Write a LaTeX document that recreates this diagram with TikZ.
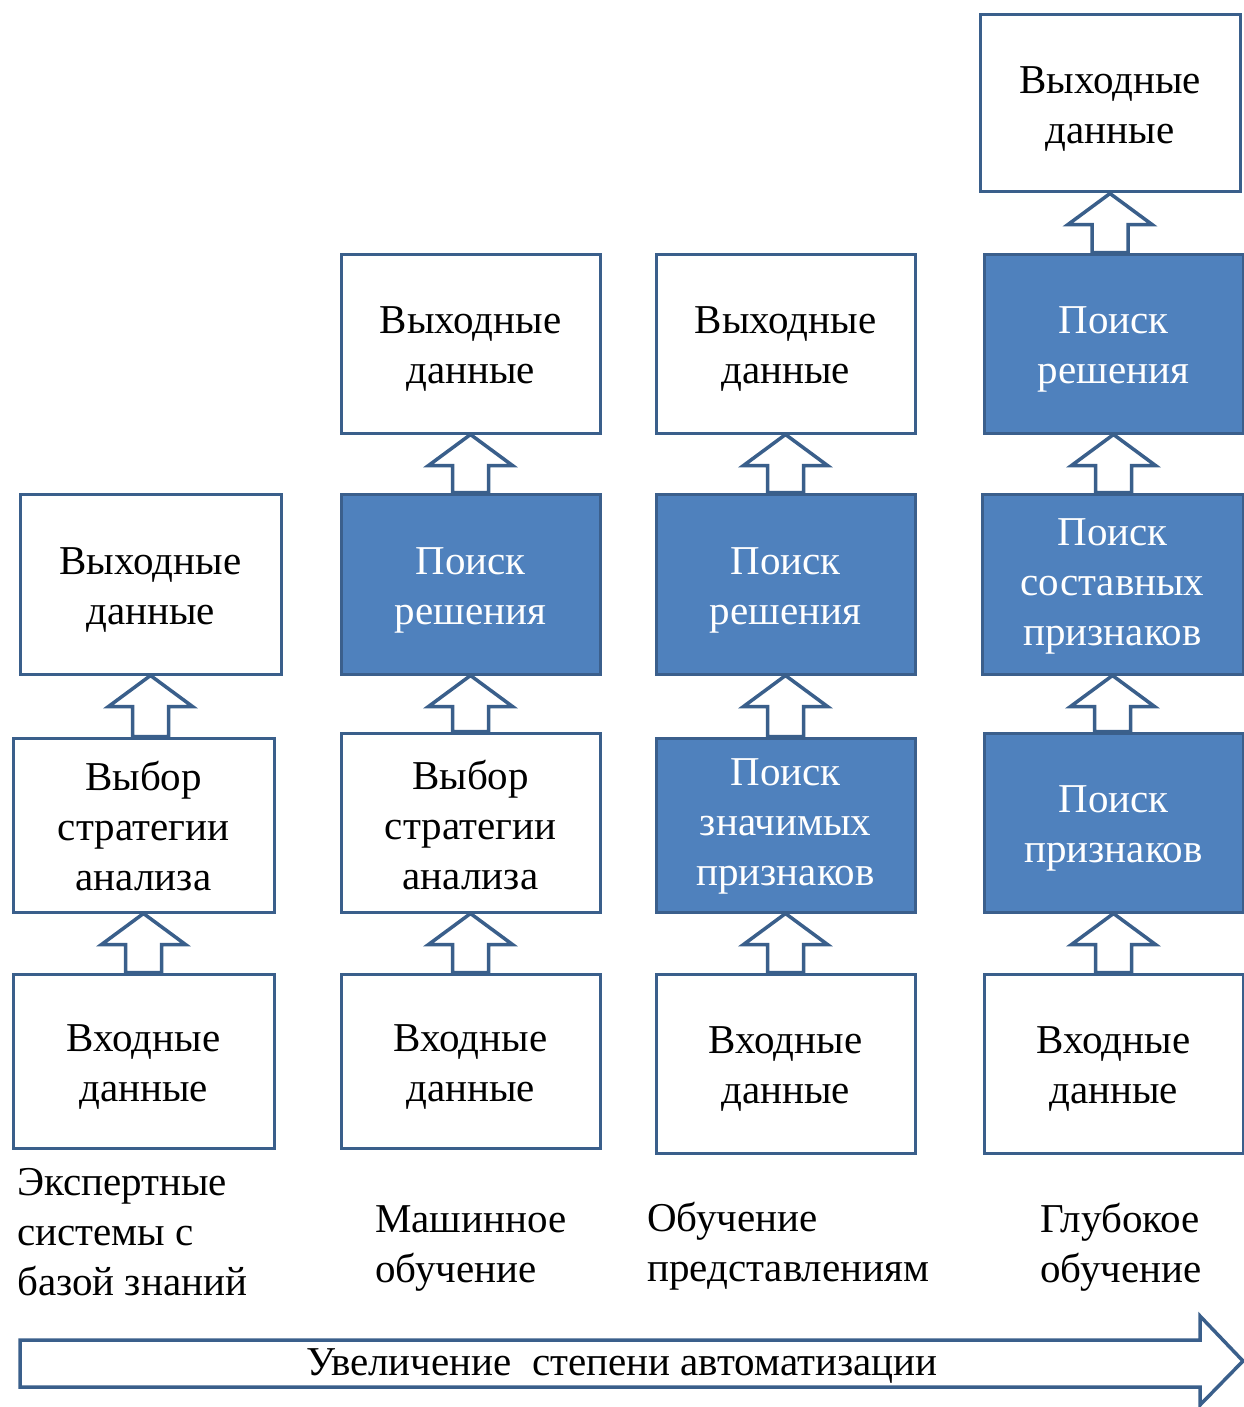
\documentclass[tikz,border=0pt]{standalone}
\usepackage{fontspec}
\setmainfont{Liberation Serif}
\usetikzlibrary{calc}
\definecolor{edgeblue}{HTML}{3A5F8B}
\definecolor{fillblue}{HTML}{4F81BD}
\definecolor{darkedge}{HTML}{3B5F8C}
\tikzset{
  base/.style={rectangle, inner sep=0pt, line width=3pt},
  wbox/.style={base, draw=edgeblue, fill=white},
  bbox/.style={base, draw=darkedge, fill=fillblue},
  wtxt/.style={inner sep=0pt, align=center, text=black, font=\fontsize{41}{50}\selectfont},
  btxt/.style={wtxt, text=white},
  barrow/.style={draw=edgeblue, fill=white, line width=3.5pt, line join=miter},
  lbl/.style={inner sep=0pt, align=left, anchor=west, font=\fontsize{41}{50}\selectfont},
}
% \bx{name}{box style}{text style}{width}{height}{x}{y}{text shift}{text}
\newcommand\bx[9]{%
  \node[#2, minimum width=#4pt, minimum height=#5pt] (#1) at (#6,#7) {};
  \node[#3] (#1t) at ($(#1)+(0,#8)$) {#9};}
\newcommand\uparr[2]{%
  \draw[barrow] let \p1=(#2.south), \p2=(#1.north) in
    (\x1,\y1) -- (\x1+42pt,\y1-31pt) -- (\x1+18pt,\y1-31pt) -- (\x1+18pt,\y2)
    -- (\x1-18pt,\y2) -- (\x1-18pt,\y1-31pt) -- (\x1-42pt,\y1-31pt) -- cycle;}
\begin{document}
\begin{tikzpicture}[x=1pt,y=-1pt]
\useasboundingbox (0,0) rectangle (1243,1407);
% column 1
\bx{a1}{wbox}{wtxt}{261}{180}{150.5}{584}{6}{Выходные\\данные}
\bx{a2}{wbox}{wtxt}{261}{174}{143.5}{825}{1}{Выбор\\стратегии\\анализа}
\bx{a3}{wbox}{wtxt}{261}{174}{143.5}{1061}{6}{Входные\\данные}
% column 2
\bx{b1}{wbox}{wtxt}{259}{179}{470.5}{343.5}{6}{Выходные\\данные}
\bx{b2}{bbox}{btxt}{259}{180}{470.5}{584}{6}{Поиск\\решения}
\bx{b3}{wbox}{wtxt}{259}{179}{470.5}{822.5}{3}{Выбор\\стратегии\\анализа}
\bx{b4}{wbox}{wtxt}{259}{174}{470.5}{1061}{6}{Входные\\данные}
% column 3
\bx{c1}{wbox}{wtxt}{259}{179}{785.5}{343.5}{6}{Выходные\\данные}
\bx{c2}{bbox}{btxt}{259}{180}{785.5}{584}{6}{Поиск\\решения}
\bx{c3}{bbox}{btxt}{259}{174}{785.5}{825}{1}{Поиск\\значимых\\признаков}
\bx{c4}{wbox}{wtxt}{259}{179}{785.5}{1063.5}{6}{Входные\\данные}
% column 4
\bx{d1}{wbox}{wtxt}{260}{177}{1110}{103.5}{6}{Выходные\\данные}
\bx{d2}{bbox}{btxt}{259}{179}{1113.5}{343.5}{6}{Поиск\\решения}
\bx{d3}{bbox}{btxt}{261}{180}{1112.5}{584}{2}{Поиск\\составных\\признаков}
\bx{d4}{bbox}{btxt}{259}{179}{1113.5}{822.5}{6}{Поиск\\признаков}
\bx{d5}{wbox}{wtxt}{259}{179}{1113.5}{1063.5}{6}{Входные\\данные}
% block arrows
\uparr{a2}{a1}\uparr{a3}{a2}
\uparr{b2}{b1}\uparr{b3}{b2}\uparr{b4}{b3}
\uparr{c2}{c1}\uparr{c3}{c2}\uparr{c4}{c3}
\uparr{d2}{d1}\uparr{d3}{d2}\uparr{d4}{d3}\uparr{d5}{d4}
% labels
\node[lbl] (l1) at (17,1232) {Экспертные\\системы с\\базой знаний};
\node[lbl] (l2) at (375,1248) {Машинное\\обучение};
\node[lbl] (l3) at (647,1246) {Обучение\\представлениям};
\node[lbl] (l4) at (1040,1247) {Глубокое\\обучение};
% bottom arrow
\draw[barrow] (20,1340) -- (1200,1340) -- (1200,1316) -- (1243,1361) -- (1200,1405)
  -- (1200,1387) -- (20,1387) -- cycle;
\node[inner sep=0pt, font=\fontsize{41}{50}\selectfont] (auto) at (622,1366) {Увеличение\ \ степени автоматизации};
\end{tikzpicture}
\end{document}
